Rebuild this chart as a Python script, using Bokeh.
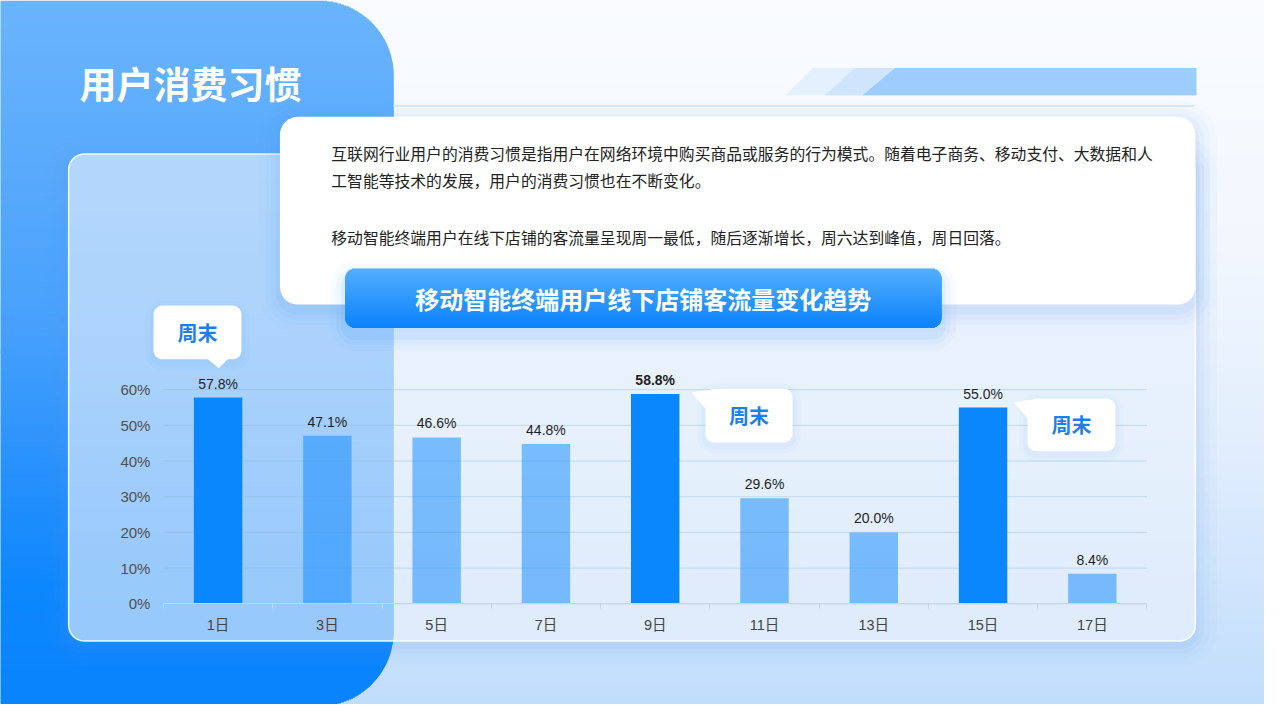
import numpy as np
from bokeh.plotting import figure
from bokeh.models import Range1d, LinearAxis, FixedTicker, PrintfTickFormatter
from bokeh.core.properties import value
from bokeh.embed import file_html
from bokeh.resources import INLINE

# ---------------- data ----------------
days = ["1日", "3日", "5日", "7日", "9日", "11日", "13日", "15日", "17日"]
share = [57.8, 47.1, 46.6, 44.8, 58.8, 29.6, 20.0, 55.0, 8.4]
weekend = [True, False, False, False, True, False, False, True, False]
y_ticks = [0, 10, 20, 30, 40, 50, 60]
page_title = "用户消费习惯"
chart_title = "移动智能终端用户线下店铺客流量变化趋势"
paragraph = [
    "互联网行业用户的消费习惯是指用户在网络环境中购买商品或服务的行为模式。随着电子商务、移动支付、大数据和人",
    "工智能等技术的发展，用户的消费习惯也在不断变化。",
    "移动智能终端用户在线下店铺的客流量呈现周一最低，随后逐渐增长，周六达到峰值，周日回落。",
]
callout_text = "周末"

# ---------------- canvas / scales ----------------
W, H = 1264, 704          # canvas that fits the 1280x720 window with its 8px margin
RW, RH = 1280, 720        # design space (slide pixels)
CJK = "Noto Sans CJK SC"
LAT = "Liberation Sans"

p = figure(width=W, height=H, x_range=Range1d(0, RW), y_range=Range1d(RH, 0),
           min_border=0, x_axis_type=None, y_axis_type=None, toolbar_location=None,
           output_backend="svg", title=None, outline_line_color=None,
           background_fill_color="#f8fbff", border_fill_color="#f8fbff")

AX_L, AX_R = 165, 1161
Y_ZERO, Y_TOP = 617, 398
n = len(days)
cat_w = (AX_R - AX_L) / n
ppu = (Y_ZERO - Y_TOP) / y_ticks[-1]
p.extra_x_ranges = {"days": Range1d((0 - AX_L) / cat_w - 0.5, (RW - AX_L) / cat_w - 0.5)}
p.extra_y_ranges = {"pct": Range1d((Y_ZERO - RH) / ppu, (Y_ZERO - 0) / ppu)}


def hexc(c):
    return "#%02x%02x%02x" % tuple(int(round(v)) for v in c)


def grad(stops, y):
    ys = [s[0] for s in stops]
    return hexc([np.interp(y, ys, [s[1][k] for s in stops]) for k in range(3)])


def rrect(l, t, r, b, rad, m=10):
    if not isinstance(rad, (tuple, list)):
        rad = (rad,) * 4
    tl, tr, br, bl = rad
    xs, ys = [], []

    def arc(cx, cy, rr, a0, a1):
        if rr <= 0:
            xs.append(cx); ys.append(cy); return
        for a in np.linspace(a0, a1, m):
            xs.append(float(cx + rr * np.cos(a))); ys.append(float(cy + rr * np.sin(a)))
    arc(l + tl, t + tl, tl, np.pi, 1.5 * np.pi)
    arc(r - tr, t + tr, tr, 1.5 * np.pi, 2 * np.pi)
    arc(r - br, b - br, br, 0, 0.5 * np.pi)
    arc(l + bl, b - bl, bl, 0.5 * np.pi, np.pi)
    return xs, ys


def shadow(l, t, r, b, rad, color, layers, dy=4):
    xs, ys, al = [], [], []
    for g, a in layers:
        x, y = rrect(l - g, t - g + dy, r + g, b + g + dy, rad + g)
        xs.append(x); ys.append(y); al.append(a)
    p.patches(xs, ys, fill_color=color, fill_alpha=al, line_color=None)


def strips(y0, y1, left_fn, right_fn, stops, split):
    """1-unit gradient rows; rows above `split` extend downward, rows below extend upward (overlap, no seams)."""
    rows = np.arange(y0, y1, 1.0)
    mids = rows + 0.5
    tops = np.where(mids < split, rows, rows - 1.5)
    bots = np.where(mids < split, rows + 2.5, rows + 1.0)
    tops = np.clip(tops, y0, y1); bots = np.clip(bots, y0, y1)
    p.quad(left=left_fn(mids), right=right_fn(mids), top=tops, bottom=bots,
           fill_color=[grad(stops, y) for y in mids], line_color=None)


# ---------------- page background ----------------
bg_stops = [(0, (249, 251, 255)), (250, (242, 247, 254)), (450, (226, 238, 253)), (720, (193, 221, 252))]
bys = np.arange(0, 724, 4.0)
p.quad(left=0, right=RW, top=bys, bottom=bys + 6.5, fill_color=[grad(bg_stops, y + 3) for y in bys], line_color=None)

# ---------------- big blue panel ----------------
blue_stops = [(0, (107, 180, 253)), (330, (72, 161, 252)), (480, (40, 145, 252)), (600, (14, 135, 253)), (720, (10, 132, 253))]
XR, RC, YB = 398, 76, 722


def blue_right(m):
    r = np.full_like(m, float(XR))
    tz = m < RC
    r[tz] = XR - RC + np.sqrt(np.clip(RC ** 2 - (RC - m[tz]) ** 2, 0, None))
    bz = m > YB - RC
    r[bz] = XR - RC + np.sqrt(np.clip(RC ** 2 - (m[bz] - (YB - RC)) ** 2, 0, None))
    return r


strips(0, 720, lambda m: np.zeros_like(m), blue_right, blue_stops, split=360)

p.text(x=[80], y=[84], text=[page_title], text_font=value(CJK), text_font_style="bold",
       text_font_size="37px", text_color="white", text_baseline="middle", text_align="left")

# ---------------- top decorative stripes ----------------
band_t, band_b, band_r = 69, 97, 1211
p.patches([[795, 823, band_r, band_r], [835, 865, band_r, band_r], [873, 906, band_r, band_r]],
          [[band_b, band_t, band_t, band_b]] * 3,
          fill_color=["#e4f0fd", "#cfe5fd", "#9dcdfc"], line_color=None)
p.segment(x0=[398], y0=[108], x1=[1209], y1=[108], line_color="#cfe3f8", line_width=1.5)

# ---------------- chart card ----------------
cl, ct, cr, cb = 69, 157, 1210, 655
shadow(cl, ct, cr, cb, 16, "#5b9fee", [(4, 0.07), (9, 0.05), (15, 0.04), (22, 0.03)], dy=4)
cx_, cy_ = rrect(cl, ct, cr, cb, 16)
p.patch(cx_, cy_, fill_color="white", fill_alpha=0.55, line_color="white", line_alpha=0.9, line_width=1.5)

# ---------------- bar chart ----------------
idx = list(range(n))
p.segment(x0=[-0.5] * len(y_ticks), x1=[n - 0.5] * len(y_ticks), y0=y_ticks, y1=y_ticks,
          x_range_name="days", y_range_name="pct", line_color="#8fb3d9", line_alpha=0.4, line_width=1)

p.vbar(x=idx, top=share, bottom=0, width=0.443, x_range_name="days", y_range_name="pct",
       fill_color="#0b87fd", fill_alpha=[1.0 if w else 0.5 for w in weekend], line_color=None)

top_val = max(share)
p.text(x=idx, y=share, text=["%.1f%%" % v for v in share], x_range_name="days", y_range_name="pct",
       text_align="center", text_baseline="bottom", y_offset=-6,
       text_font=value(LAT), text_font_size="14px", text_color="#1f1f1f",
       text_font_style=["bold" if v == top_val else "normal" for v in share])

yaxis = LinearAxis(y_range_name="pct", fixed_location=AX_L, ticker=FixedTicker(ticks=y_ticks),
                   formatter=PrintfTickFormatter(format="%d%%"))
yaxis.axis_line_color = None
yaxis.major_tick_line_color = None
yaxis.minor_tick_line_color = None
yaxis.major_tick_out = 0
yaxis.major_tick_in = 0
yaxis.major_label_standoff = 13
yaxis.major_label_text_font = LAT
yaxis.major_label_text_font_size = "15px"
yaxis.major_label_text_color = "#505050"
p.add_layout(yaxis, "left")

xaxis = LinearAxis(x_range_name="days", fixed_location=Y_ZERO,
                   ticker=FixedTicker(ticks=idx, minor_ticks=[i - 0.5 for i in range(n + 1)]),
                   bounds=(-0.5, n - 0.5))
xaxis.major_label_overrides = {i: d for i, d in enumerate(days)}
xaxis.axis_line_color = "#cbd5df"
xaxis.major_tick_line_color = None
xaxis.major_tick_out = 0
xaxis.major_tick_in = 0
xaxis.minor_tick_line_color = "#cbd5df"
xaxis.minor_tick_out = 5
xaxis.minor_tick_in = 0
xaxis.major_label_standoff = 8
xaxis.major_label_text_font = LAT + ", " + CJK
xaxis.major_label_text_font_size = "14.5px"
xaxis.major_label_text_color = "#444444"
p.add_layout(xaxis, "below")

# ---------------- text card ----------------
tl_, tt_, tr_, tb_ = 283, 119, 1210, 311
shadow(tl_, tt_, tr_, tb_, 18, "#4b97ee", [(4, 0.06), (9, 0.05), (15, 0.035), (22, 0.025)], dy=6)
tx, ty = rrect(tl_, tt_, tr_, tb_, 18)
p.patch(tx, ty, fill_color="white", line_color=None)
p.text(x=[335, 335, 335], y=[156, 184, 242], text=paragraph, text_font=value(CJK),
       text_font_size="15.8px", text_color="#222222", text_baseline="middle", text_align="left")

# ---------------- pill title ----------------
pl, pt, pr, pb, prad = 349, 274, 953, 335, 10
shadow(pl, pt, pr, pb, prad, "#2f8ff5", [(4, 0.07), (9, 0.05), (15, 0.035)], dy=8)
pill_stops = [(pt, (84, 174, 253)), (pb, (12, 131, 251))]


def pill_inset(m):
    d = np.minimum(m - pt, pb - m)
    return np.where(d < prad, prad - np.sqrt(np.clip(prad ** 2 - (prad - d) ** 2, 0, None)), 0.0)


strips(pt, pb, lambda m: pl + pill_inset(m), lambda m: pr - pill_inset(m), pill_stops, split=(pt + pb) / 2)
p.text(x=[(pl + pr) / 2], y=[305], text=[chart_title], text_font=value(CJK), text_font_style="bold",
       text_font_size="24px", text_color="white", text_align="center", text_baseline="middle")

# ---------------- callouts ----------------
boxes = [(155, 312, 244, 367), (714, 397, 802, 452), (1040, 407, 1129, 461)]
tails = [([209, 231, 221], [366, 366, 376]),
         ([718, 700, 716], [398, 401, 420]),
         ([1044, 1026, 1042], [408, 411, 430])]
bxs, bys_ = [], []
for (l, t, r, b) in boxes:
    x, y = rrect(l, t, r, b, 9)
    bxs.append(x); bys_.append(y)
for (l, t, r, b) in boxes:
    shadow(l, t, r, b, 9, "#4b97ee", [(4, 0.04), (8, 0.03)], dy=3)
p.patches(bxs, bys_, fill_color="white", line_color=None)
p.patches([t[0] for t in tails], [t[1] for t in tails], fill_color="white", line_color=None)
p.text(x=[(b[0] + b[2]) / 2 for b in boxes], y=[(b[1] + b[3]) / 2 for b in boxes],
       text=[callout_text] * len(boxes), text_font=value(CJK), text_font_style="bold",
       text_font_size="20px", text_color="#1c7fef", text_align="center", text_baseline="middle")

open("out.html", "w").write(file_html(p, INLINE))
